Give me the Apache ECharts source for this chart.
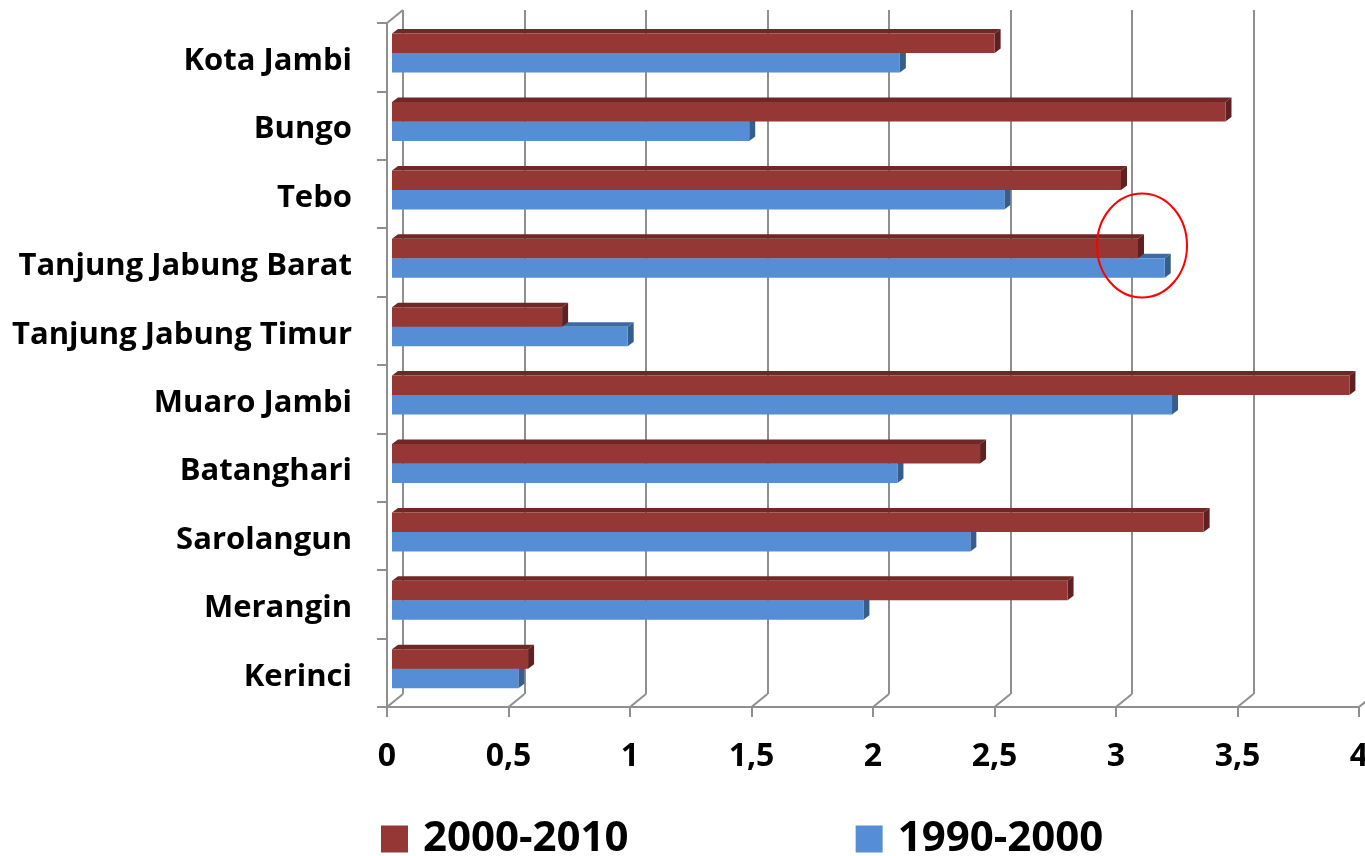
<!DOCTYPE html>
<html>
<head>
<meta charset="utf-8">
<script src="https://cdn.jsdelivr.net/npm/echarts@6/dist/echarts.min.js"></script>
<style>
html,body{margin:0;padding:0;background:#fff;}
#chart{width:1365px;height:856px;}
</style>
</head>
<body>
<div id="chart"></div>
<script>
// ---- data ----
var categories = ['Kota Jambi','Bungo','Tebo','Tanjung Jabung Barat','Tanjung Jabung Timur','Muaro Jambi','Batanghari','Sarolangun','Merangin','Kerinci'];
var series2000_2010 = [2.48, 3.43, 3.00, 3.07, 0.70, 3.94, 2.42, 3.34, 2.78, 0.56];
var series1990_2000 = [2.09, 1.47, 2.52, 3.18, 0.97, 3.21, 2.08, 2.38, 1.94, 0.52];
var seriesNames = ['2000-2010','1990-2000'];
var xTickValues = [0, 0.5, 1, 1.5, 2, 2.5, 3, 3.5, 4];

// ---- style ----
var FONT = 'Open Sans';
var GRID_COLOR = '#8f8f8f';
var DEPTH = [16, -13];    // back wall offset
var BAR_DEPTH = [6, -4.5];
var BAR_OFFSET = 5;       // bars sit a bit behind the front plane

var palette = {
  red:  {front:'#953735', top:'#6e2826', side:'#5e2020'},
  blue: {front:'#558ed5', top:'#3d6aa3', side:'#375d8c'}
};

function barRenderer(pal, upper) {
  return function (params, api) {
    var v = api.value(0), ci = api.value(1);
    var p0 = api.coord([0, ci]);
    var p1 = api.coord([v, ci]);
    var band = api.size([0, 1])[1];
    var h = band * 0.285;
    var cy = p0[1] - band * 0.06;
    var y0 = upper ? cy - h : cy;
    var y1 = y0 + h;
    var x0 = p0[0] + BAR_OFFSET, x1 = p1[0] + BAR_OFFSET;
    var dx = BAR_DEPTH[0], dy = BAR_DEPTH[1];
    return {
      type: 'group',
      children: [
        {type:'polygon', shape:{points:[[x0,y0],[x0+dx,y0+dy],[x1+dx,y0+dy],[x1,y0]]}, style:{fill:pal.top}},
        {type:'polygon', shape:{points:[[x1,y0],[x1+dx,y0+dy],[x1+dx,y1+dy],[x1,y1]]}, style:{fill:pal.side}},
        {type:'rect', shape:{x:x0, y:y0, width:x1-x0, height:h}, style:{fill:pal.front}}
      ]
    };
  };
}

function frameRenderer(params, api) {
  var cs = params.coordSys;
  var v = api.value(0);
  var x = api.coord([v, 0])[0];
  var yb = cs.y + cs.height;
  var children = [
    {type:'line', shape:{x1:x, y1:yb, x2:x+DEPTH[0], y2:yb+DEPTH[1]}, style:{stroke:GRID_COLOR, lineWidth:2}}
  ];
  if (params.dataIndex === 0) {
    children.push({type:'line', shape:{x1:cs.x, y1:cs.y, x2:cs.x+DEPTH[0], y2:cs.y+DEPTH[1]}, style:{stroke:GRID_COLOR, lineWidth:2}});
  }
  return {type:'group', children:children};
}

var chart = echarts.init(document.getElementById('chart'), null, {renderer:'canvas'});
var option = {
  backgroundColor: '#ffffff',
  animation: false,
  legend: {
    data: seriesNames,
    left: 381,
    top: 818,
    icon: 'rect',
    itemWidth: 27,
    itemHeight: 27,
    itemGap: 227,
    padding: 0,
    textStyle: {fontFamily: FONT, fontWeight: 'bold', fontSize: 42, color: '#000', padding:[0,0,0,10]}
  },
  grid: [
    {left: 387, width: 972, top: 23, height: 684, outerBoundsMode: 'none', containLabel: false},   // front plane
    {left: 403, width: 972, top: 10, height: 684, outerBoundsMode: 'none', containLabel: false}    // back wall
  ],
  xAxis: [
    {
      gridIndex: 0, type: 'value', min: 0, max: 4, interval: 0.5,
      axisLine: {show: true, lineStyle: {color: GRID_COLOR, width: 2}},
      axisTick: {show: true, length: 10, lineStyle: {color: GRID_COLOR, width: 2}},
      splitLine: {show: false},
      axisLabel: {
        margin: 34, color: '#000', fontFamily: FONT, fontWeight: 'bold', fontSize: 32,
        showMaxLabel: true, showMinLabel: true, hideOverlap: false,
        formatter: function (v) { return String(v).replace('.', ','); }
      }
    },
    {
      gridIndex: 1, type: 'value', min: 0, max: 4, interval: 0.5,
      axisLine: {show: false}, axisTick: {show: false}, axisLabel: {show: false},
      splitLine: {show: true, lineStyle: {color: GRID_COLOR, width: 2}}
    }
  ],
  yAxis: [
    {
      gridIndex: 0, type: 'category', data: categories, inverse: true,
      axisLine: {show: true, lineStyle: {color: GRID_COLOR, width: 2}},
      axisTick: {show: true, length: 10, lineStyle: {color: GRID_COLOR, width: 2}},
      axisLabel: {
        margin: 35,
        formatter: function (v) { return '{l|' + v + '}'; },
        rich: {l: {color: '#000', fontFamily: FONT, fontWeight: 'bold', fontSize: 31, padding: [8, 0, 0, 0]}}
      }
    },
    {gridIndex: 1, type: 'value', show: false}
  ],
  series: [
    {
      name: 'frame', type: 'custom', xAxisIndex: 0, yAxisIndex: 0, silent: true, z: 1,
      renderItem: frameRenderer,
      data: xTickValues.map(function (v) { return [v, 0]; }),
      encode: {x: 0, y: 1}
    },
    {
      name: seriesNames[1], type: 'custom', xAxisIndex: 0, yAxisIndex: 0, z: 3,
      itemStyle: {color: palette.blue.front},
      renderItem: barRenderer(palette.blue, false),
      data: series1990_2000.map(function (v, i) { return [v, i]; }),
      encode: {x: 0, y: 1}
    },
    {
      name: seriesNames[0], type: 'custom', xAxisIndex: 0, yAxisIndex: 0, z: 4,
      itemStyle: {color: palette.red.front},
      renderItem: barRenderer(palette.red, true),
      data: series2000_2010.map(function (v, i) { return [v, i]; }),
      encode: {x: 0, y: 1}
    }
  ],
  graphic: [
    {type: 'ellipse', shape: {cx: 1142, cy: 245.5, rx: 45, ry: 52}, style: {fill: 'none', stroke: '#ff0000', lineWidth: 2}, z: 100}
  ]
};
chart.setOption(option);
</script>
</body>
</html>
